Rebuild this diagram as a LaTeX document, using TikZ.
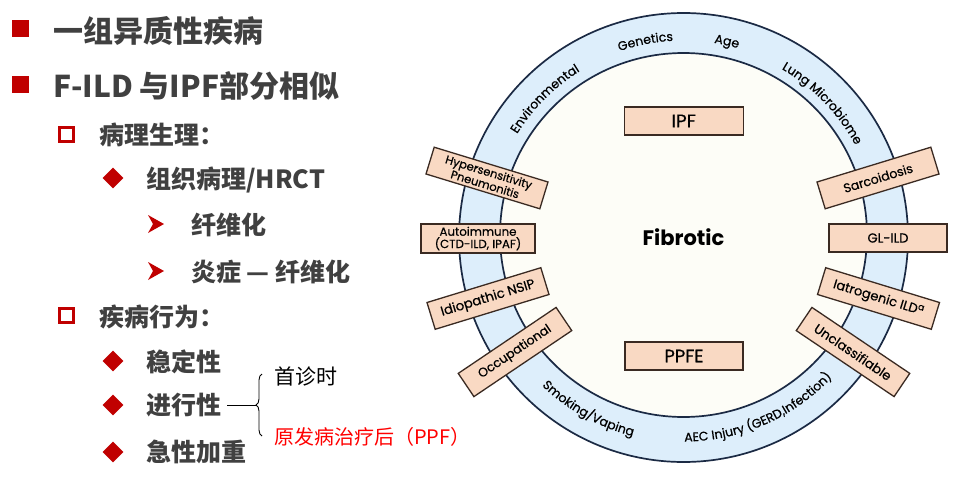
\documentclass[tikz,border=0pt]{standalone}
\usepackage{fontspec}
\setmainfont{Poppins}
\newfontfamily\gfont{Poppins}[FakeBold=0.5]
\newfontfamily\gfontb{Poppins}
\newfontfamily\cjk{Noto Sans CJK SC}
\usetikzlibrary{decorations.text,decorations.pathreplacing,shapes.geometric}
\definecolor{ringblue}{HTML}{DDEEFB}
\definecolor{innerfill}{HTML}{FDFDF7}
\definecolor{ringline}{HTML}{1B2A44}
\definecolor{peach}{HTML}{F9D9C3}
\definecolor{boxline}{HTML}{3A2A22}
\definecolor{textgray}{HTML}{404040}
\definecolor{bulletred}{HTML}{C00000}
\definecolor{ppfred}{HTML}{FF0000}
\newcommand\ringfont{\gfont\fontsize{12.5}{13}\selectfont}
\newcommand\bfs[1]{\gfont\fontsize{#1}{#1}\selectfont}
\tikzset{
  box/.style={draw=boxline, fill=peach, line width=1.3pt, minimum width=118pt,
    minimum height=28pt, inner sep=1pt, align=center, text=black},
  ringtext/.style={decorate, decoration={text along path, text align=center, text={|\ringfont|#1}}},
  lone/.style={anchor=west, text=textgray, inner sep=0pt, font=\cjk\bfseries\fontsize{30}{31}\selectfont},
  ltwo/.style={anchor=west, text=textgray, inner sep=0pt, font=\cjk\bfseries\fontsize{25}{26}\selectfont},
  sqbullet/.style={rectangle, fill=bulletred, minimum size=17pt, inner sep=0pt},
  hollowbullet/.style={rectangle, draw=bulletred, line width=3pt, fill=white, minimum size=14pt, inner sep=0pt},
  diabullet/.style={diamond, fill=bulletred, minimum size=21pt, inner sep=0pt},
}
\begin{document}
\begin{tikzpicture}[x=1pt,y=1pt]
\useasboundingbox (0,0) rectangle (960,-479);
\fill[white] (0,0) rectangle (960,-479);

% ---------- ring ----------
\coordinate (C) at (683.5,-237.5);
\coordinate (Ci) at (683.5,-235);
\filldraw[fill=ringblue, draw=ringline, line width=1.7pt] (C) ellipse [x radius=224.5, y radius=224.5];
\filldraw[fill=innerfill, draw=ringline, line width=1.7pt] (Ci) ellipse [x radius=183.5, y radius=182];

% ring labels, top (letters outward)
\path[ringtext={Environmental}] (C) ++(160:196) arc[start angle=160, end angle=110, radius=196];
\path[ringtext={Genetics}] (C) ++(126:197) arc[start angle=126, end angle=76, radius=197];
\path[ringtext={Age}] (C) ++(102.5:197) arc[start angle=102.5, end angle=52.5, radius=197];
\path[ringtext={Lung Microbiome}] (C) ++(74:195) arc[start angle=74, end angle=14, radius=195];
% ring labels, bottom (letters inward)
\path[ringtext={Smoking/Vaping}] (C) ++(213:205) arc[start angle=213, end angle=269, radius=205];
\path[ringtext={AEC Injury (GERD,Infection)}] (C) ++(258:204) arc[start angle=258, end angle=329, radius=204];

% ---------- boxes ----------
\node[box, minimum width=119pt, font=\bfs{18.5}] (ipf) at (683.7,-121) {IPF};
\node[box, minimum width=118pt, font=\bfs{18}] (ppfe) at (684,-356) {PPFE};
\node[font=\gfontb\bfseries\fontsize{21}{22}\selectfont, text=black] (fib) at (683.5,-237) {Fibrotic};
\node[box, minimum width=114pt, minimum height=29pt, font=\gfont\fontsize{11.8}{12.3}\selectfont] (auto) at (478,-238.5) {Autoimmune\\(CTD-ILD, IPAF)};
\node[box, minimum width=118pt, font=\bfs{13}] (glild) at (888,-238) {GL-ILD};
\node[box, minimum width=119pt, font=\gfont\fontsize{11.5}{11.5}\selectfont, rotate=-17] (hp) at (487,-178) {Hypersensitivity\\Pneumonitis};
\node[box, minimum width=119pt, font=\bfs{12.5}, rotate=17] (sarc) at (878,-178) {Sarcoidosis};
\node[box, minimum width=119pt, font=\bfs{13.2}, rotate=17] (nsip) at (488,-298.5) {Idiopathic NSIP};
\node[box, minimum width=119pt, font=\bfs{13}, rotate=-17] (iat) at (878.5,-298.5) {Iatrogenic ILD\textsuperscript{a}};
\node[box, minimum width=118pt, font=\bfs{12.5}, rotate=34] (occ) at (515,-352) {Occupational};
\node[box, minimum width=118pt, font=\bfs{13}, rotate=-34] (uncl) at (853,-352) {Unclassifiable};

% ---------- left text ----------
\node[sqbullet] (b1) at (20.5,-28.5) {};
\node[lone] (t1) at (53,-31) {一组异质性疾病};
\node[sqbullet] (b2) at (20.5,-84.5) {};
\node[lone] (t2) at (53,-86) {F-ILD 与IPF部分相似};

\node[hollowbullet] (b3) at (66,-134.5) {};
\node[ltwo] (t3) at (99,-135) {病理生理：};
\node[diabullet] (b4) at (113,-178) {};
\node[ltwo] (t4) at (146,-180) {组织病理/HRCT};
\fill[bulletred] (148,-215) -- (164,-224) -- (148,-233) -- (153,-224) -- cycle;
\node[ltwo] (t5) at (191,-225) {纤维化};
\fill[bulletred] (148,-262) -- (164,-271) -- (148,-280) -- (153,-271) -- cycle;
\node[ltwo] (t6) at (191,-272) {炎症 — 纤维化};

\node[hollowbullet] (b7) at (66,-315) {};
\node[ltwo] (t7) at (99,-317) {疾病行为：};
\node[diabullet] (b8) at (113,-361) {};
\node[ltwo] (t8) at (146,-362) {稳定性};
\node[diabullet] (b9) at (113,-405) {};
\node[ltwo] (t9) at (146,-405) {进行性};
\node[diabullet] (b10) at (113,-452) {};
\node[ltwo] (t10) at (146,-452) {急性加重};

% brace
\coordinate (bt) at (256,-405);
\draw[line width=0.9pt, decorate, decoration={brace, amplitude=6pt}] (262,-436) -- (262,-374);
\draw[line width=1pt] ([xshift=6pt]t9.east) -- (bt);
\node[anchor=west, inner sep=0pt, text=black, font=\cjk\fontsize{21}{22}\selectfont] (first) at (274,-376) {首诊时};
\node[anchor=west, inner sep=0pt, text=ppfred, font=\cjk\fontsize{20}{21}\selectfont] (ppf) at (274,-437) {原发病治疗后（PPF）};
\end{tikzpicture}
\end{document}
